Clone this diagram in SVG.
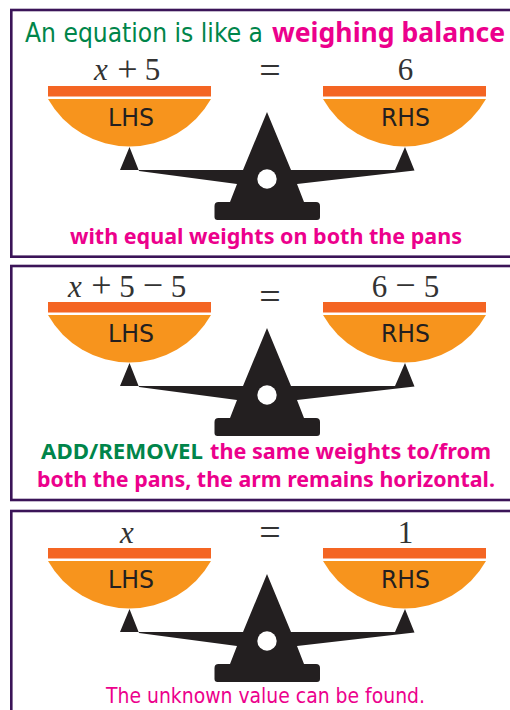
<svg xmlns="http://www.w3.org/2000/svg" width="510" height="710" viewBox="0 0 510 710">
<style>
.frame{fill:#fff;stroke:#3b1458;stroke-width:2.6}
.bar{fill:#f46523}
.bowl{fill:#f7941d}
.ink{fill:#231f20}
.side{font:25.500px "DejaVu Sans",sans-serif;fill:#231f20}
.math{font:31px "Liberation Serif",serif;fill:#333;text-anchor:middle}
.op{font-size:36px}
.eq{font-size:38px}
.var{font-style:italic}
.title{font:26px "DejaVu Sans",sans-serif;fill:#00854a}
.pink{font:bold 20.500px "Noto Sans",sans-serif;fill:#ec008c}
.head{font-size:26px}
.green{font:bold 20.500px "Noto Sans",sans-serif;fill:#00854a}
.plain{font:22px "DejaVu Sans",sans-serif;fill:#ec008c}
</style>
<defs>
<g id="balance">
<rect class="bar" x="48" y="86" width="163" height="10.500"/>
<path class="bowl" d="M48 99H211A93.700 93.700 0 0 1 48 99Z"/>
<rect class="bar" x="323" y="86" width="163" height="10.500"/>
<path class="bowl" d="M323 99H486A93.700 93.700 0 0 1 323 99Z"/>
<path class="ink" d="M129.500 147 120 170H243L267 112 291 170H395L405 147 414.500 170.500 297 184 304 202H316Q320 202 320 206V217Q320 220 317 220H217.500Q214.500 220 214.500 217V206Q214.500 202 218.500 202H230L237 184 139 171Z"/>
<circle cx="267" cy="179" r="9.700" fill="#fff"/>
</g>
</defs>
<g id="panel-1">
<rect class="frame" x="11.300" y="10" width="520" height="246.700"/>
<use href="#balance"/>
<text class="title" x="25" y="42" textLength="238" lengthAdjust="spacingAndGlyphs">An equation is like a</text>
<text class="pink head" x="272" y="42" textLength="233" lengthAdjust="spacingAndGlyphs">weighing balance</text>
<text class="side" x="108" y="126" textLength="46" lengthAdjust="spacingAndGlyphs">LHS</text>
<text class="side" x="381" y="126" textLength="49" lengthAdjust="spacingAndGlyphs">RHS</text>
<text class="math" x="101" y="80"><tspan class="var">x</tspan></text>
<text class="math op" x="127.500" y="81">+</text>
<text class="math" x="152.500" y="80">5</text>
<text class="math eq" x="270" y="83">=</text>
<text class="math" x="405.500" y="80">6</text>
<text class="pink" x="70" y="244" textLength="392" lengthAdjust="spacingAndGlyphs">with equal weights on both the pans</text>
</g>
<g id="panel-2">
<rect class="frame" x="11.300" y="266" width="520" height="234"/>
<use href="#balance" y="216"/>
<text class="side" x="108" y="342" textLength="46" lengthAdjust="spacingAndGlyphs">LHS</text>
<text class="side" x="381" y="342" textLength="49" lengthAdjust="spacingAndGlyphs">RHS</text>
<text class="math" x="75" y="297"><tspan class="var">x</tspan></text>
<text class="math op" x="101.500" y="297">+</text>
<text class="math" x="127" y="297">5</text>
<text class="math op" x="153" y="297">−</text>
<text class="math" x="178.500" y="297">5</text>
<text class="math eq" x="270" y="309">=</text>
<text class="math" x="379.500" y="297">6</text>
<text class="math op" x="405.500" y="297">−</text>
<text class="math" x="431.500" y="297">5</text>
<text class="green" x="41" y="459" textLength="162" lengthAdjust="spacingAndGlyphs">ADD/REMOVEL</text>
<text class="pink" x="210" y="459" textLength="281" lengthAdjust="spacingAndGlyphs">the same weights to/from</text>
<text class="pink" x="37" y="487" textLength="458" lengthAdjust="spacingAndGlyphs">both the pans, the arm remains horizontal.</text>
</g>
<g id="panel-3">
<rect class="frame" x="11.300" y="511" width="520" height="230"/>
<use href="#balance" y="462"/>
<text class="side" x="108" y="588" textLength="46" lengthAdjust="spacingAndGlyphs">LHS</text>
<text class="side" x="381" y="588" textLength="49" lengthAdjust="spacingAndGlyphs">RHS</text>
<text class="math" x="127" y="543"><tspan class="var">x</tspan></text>
<text class="math eq" x="270" y="545">=</text>
<text class="math" x="405.500" y="543">1</text>
<text class="plain" x="106" y="703" textLength="319" lengthAdjust="spacingAndGlyphs">The unknown value can be found.</text>
</g>
</svg>
